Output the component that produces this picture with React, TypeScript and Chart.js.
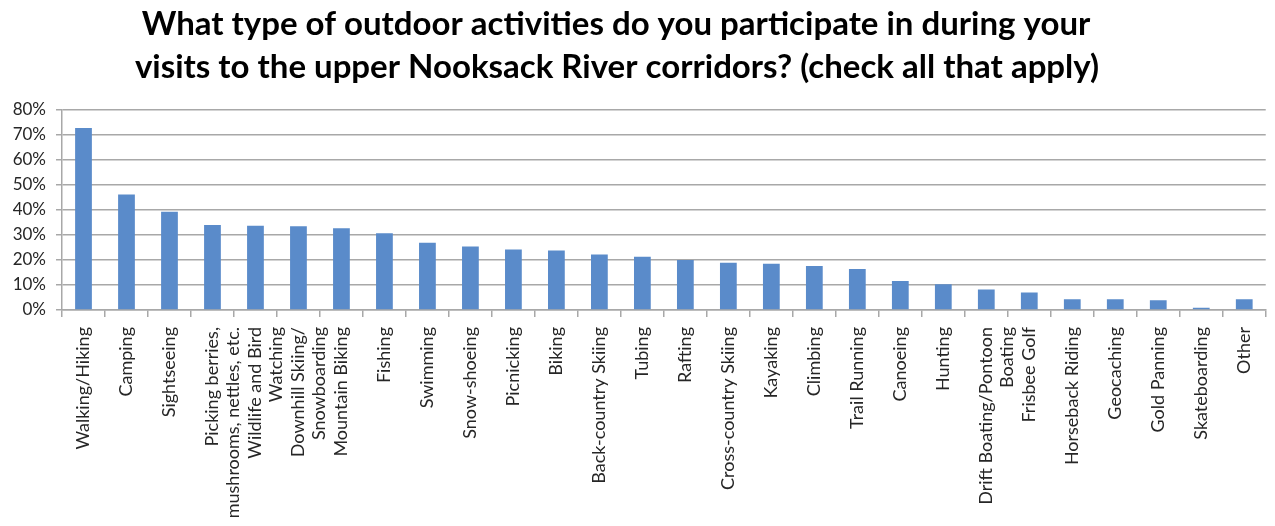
import React, { useEffect, useRef } from "react";
import { Chart, registerables } from "chart.js";

Chart.register(...registerables);

const titleLines = [
  "What type of outdoor activities do you participate in during your",
  "visits to the upper Nooksack River corridors? (check all that apply)",
];

const categories: (string | string[])[] = [
  "Walking/Hiking",
  "Camping",
  "Sightseeing",
  ["Picking berries,", "mushrooms, nettles, etc."],
  ["Wildlife and Bird", "Watching"],
  ["Downhill Skiing/", "Snowboarding"],
  "Mountain Biking",
  "Fishing",
  "Swimming",
  "Snow-shoeing",
  "Picnicking",
  "Biking",
  "Back-country Skiing",
  "Tubing",
  "Rafting",
  "Cross-country Skiing",
  "Kayaking",
  "Climbing",
  "Trail Running",
  "Canoeing",
  "Hunting",
  ["Drift Boating/Pontoon", "Boating"],
  "Frisbee Golf",
  "Horseback Riding",
  "Geocaching",
  "Gold Panning",
  "Skateboarding",
  "Other",
];

const percentValues = [
  72.8, 46.2, 39.3, 34.0, 33.7, 33.5, 32.7, 30.7, 26.9, 25.4, 24.2, 23.8, 22.2,
  21.3, 20.0, 18.9, 18.5, 17.6, 16.4, 11.6, 10.3, 8.2, 7.0, 4.3, 4.3, 3.9, 0.9,
  4.3,
];

const yTicks = [0, 10, 20, 30, 40, 50, 60, 70, 80];

const titlePlugin = {
  id: "customTitle",
  afterDraw(chart: any) {
    const ctx = chart.ctx;
    ctx.save();
    ctx.fillStyle = "#000000";
    ctx.font = "bold 33px Lato";
    ctx.textAlign = "center";
    ctx.textBaseline = "alphabetic";
    ctx.fillText(titleLines[0], 616, 35);
    ctx.fillText(titleLines[1], 617, 78);
    ctx.restore();
  },
};

export default function App() {
  const canvasRef = useRef<HTMLCanvasElement | null>(null);

  useEffect(() => {
    document.body.style.margin = "0";
    const canvas = canvasRef.current;
    if (!canvas) return;
    const chart = new Chart(canvas, {
      type: "bar",
      data: {
        labels: categories,
        datasets: [
          {
            data: percentValues,
            backgroundColor: "#5a8bca",
            borderWidth: 0,
            barPercentage: 0.39,
            categoryPercentage: 1,
          },
        ],
      },
      options: {
        animation: false,
        responsive: false,
        maintainAspectRatio: false,
        layout: { padding: { top: 110, right: 3, left: 0, bottom: 0 } },
        plugins: {
          legend: { display: false },
          title: { display: false },
          tooltip: { enabled: false },
        },
        scales: {
          x: {
            afterFit: (scale: any) => {
              scale.height = 216;
            },
            grid: {
              display: true,
              drawOnChartArea: false,
              drawTicks: true,
              tickLength: 7,
              color: "#a8a8a8",
              lineWidth: 1.5,
            },
            border: { display: true, color: "#a8a8a8", width: 1.5 },
            ticks: {
              autoSkip: false,
              maxRotation: 90,
              minRotation: 90,
              padding: 10,
              color: "#262626",
              font: { family: "Lato", size: 18, lineHeight: 1.15 },
            },
          },
          y: {
            min: 0,
            max: 80,
            afterFit: (scale: any) => {
              scale.width = 62;
            },
            afterBuildTicks: (scale: any) => {
              scale.ticks = yTicks.map((v) => ({ value: v }));
            },
            grid: {
              color: "#a8a8a8",
              lineWidth: 1.5,
              tickLength: 6,
              drawTicks: true,
            },
            border: { display: true, color: "#a8a8a8", width: 1.5 },
            ticks: {
              padding: 10,
              color: "#262626",
              font: { family: "Lato", size: 17 },
              callback: (v: any) => `${v}%`,
            },
          },
        },
      },
      plugins: [titlePlugin],
    });
    return () => chart.destroy();
  }, []);

  return (
    <div style={{ width: 1275, height: 526 }}>
      <canvas ref={canvasRef} width={1275} height={526} style={{ display: "block" }} />
    </div>
  );
}
